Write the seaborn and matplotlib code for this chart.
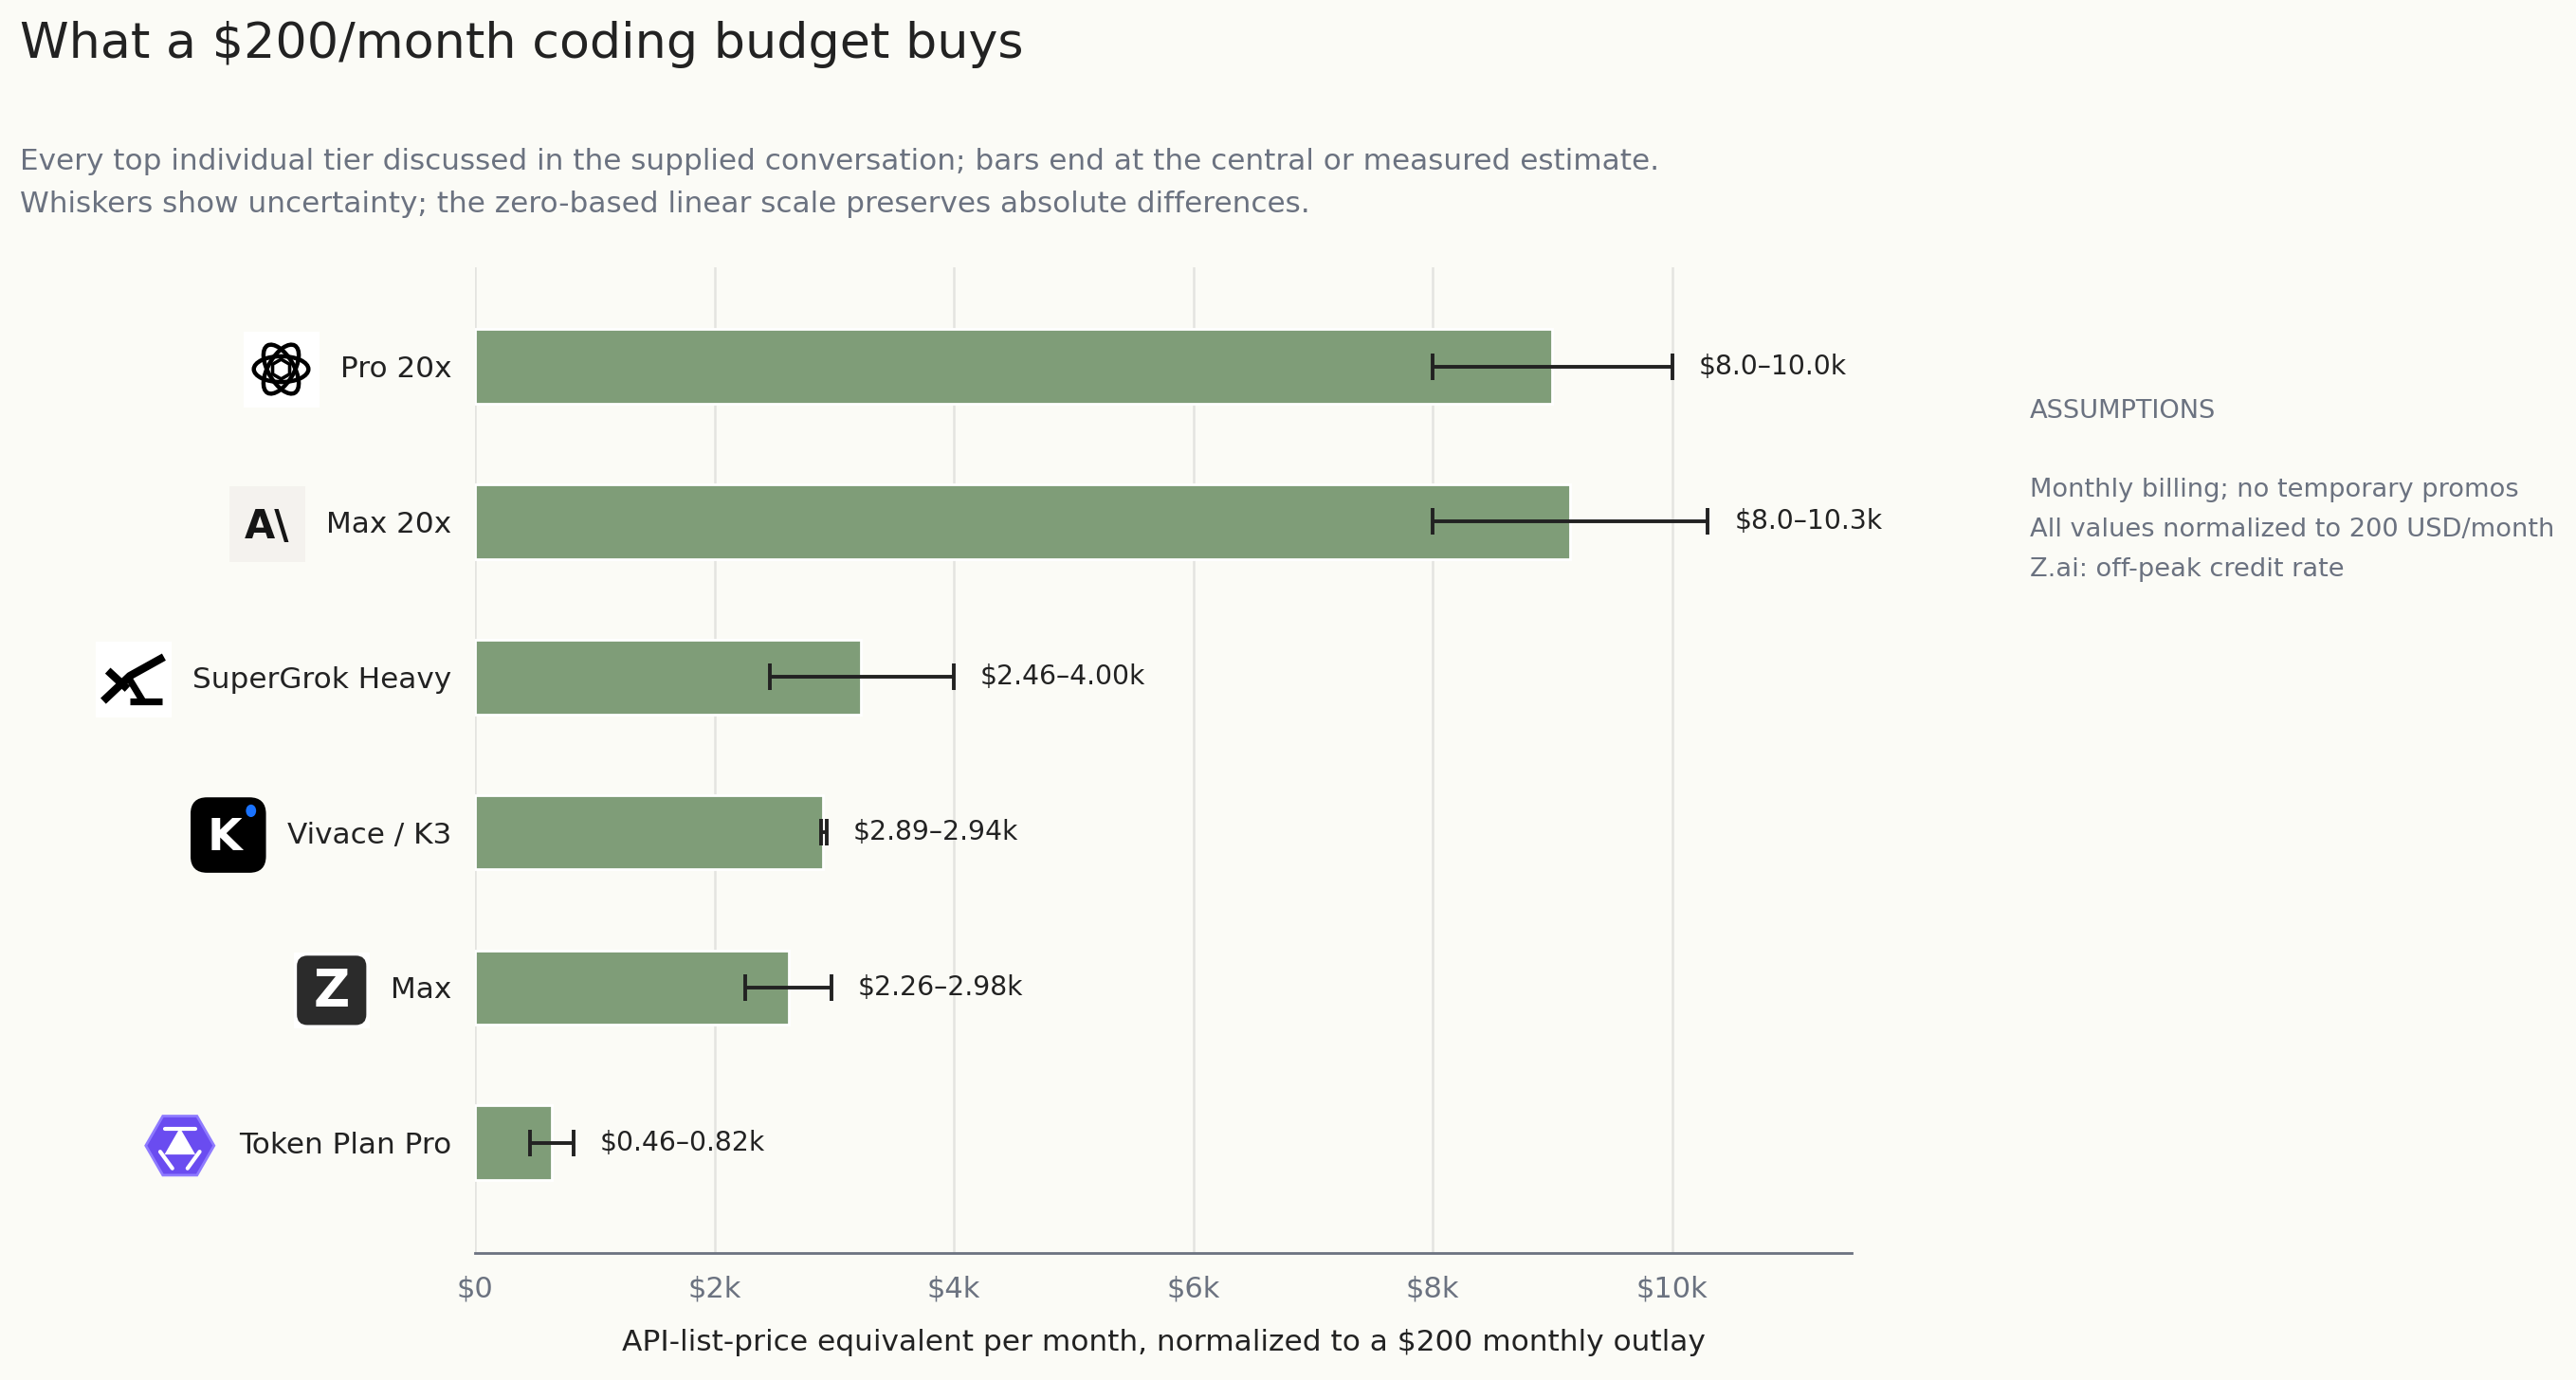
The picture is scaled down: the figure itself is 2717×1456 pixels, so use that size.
import matplotlib
matplotlib.use("Agg")
import matplotlib.pyplot as plt
import matplotlib.patches as mpatches
import seaborn as sns
import numpy as np
import pandas as pd

# data (values in $k per month)
plans = ["Pro 20x", "Max 20x", "SuperGrok Heavy", "Vivace / K3", "Max", "Token Plan Pro"]
central = [9.00, 9.15, 3.22, 2.91, 2.62, 0.64]
low = [8.0, 8.0, 2.46, 2.89, 2.26, 0.46]
high = [10.0, 10.3, 4.00, 2.94, 2.98, 0.82]
range_labels = ["$8.0\u201310.0k", "$8.0\u201310.3k", "$2.46\u20134.00k",
                "$2.89\u20132.94k", "$2.26\u20132.98k", "$0.46\u20130.82k"]
logos = ["openai", "anthropic", "xai", "kimi", "zai", "qwen"]
xticks = [0, 2, 4, 6, 8, 10]
xtick_labels = ["$0", "$2k", "$4k", "$6k", "$8k", "$10k"]
assumptions = ["Monthly billing; no temporary promos",
               "All values normalized to 200 USD/month",
               "Z.ai: off-peak credit rate"]

BG = "#fbfbf6"
BAR = "#7f9d78"
GREY = "#6b7280"
DARK = "#222222"

df = pd.DataFrame({"plan": plans, "central": central, "low": low, "high": high})

sns.set_style("white")
plt.rcParams["font.family"] = ["DejaVu Sans"]

fig = plt.figure(figsize=(13.585, 7.28), dpi=200, facecolor=BG)
ax = fig.add_axes([0.1844, 0.092, 0.5344, 0.714])
ax.set_facecolor(BG)

sns.barplot(data=df, x="central", y="plan", orient="h", color=BAR,
            width=0.48, saturation=1, ax=ax, zorder=2)

ypos = np.arange(len(plans))
xerr = [df["central"] - df["low"], df["high"] - df["central"]]
ax.errorbar(df["central"], ypos, xerr=xerr, fmt="none", ecolor=DARK,
            elinewidth=1.4, capsize=5, capthick=1.4, zorder=3)

for y, hi, lab in zip(ypos, high, range_labels):
    ax.annotate(lab, (hi, y), xytext=(10, 0), textcoords="offset points",
                va="center", ha="left", fontsize=10.2, color=DARK)

ax.set_xlim(0, 11.5)
ax.set_ylim(len(plans) - 0.29, -0.635)
ax.set_xticks(xticks)
ax.set_xticklabels(xtick_labels, fontsize=11, color=GREY)
ax.grid(axis="x", color="#e4e4e0", linewidth=0.9, zorder=0)
ax.set_axisbelow(True)
for s in ["top", "right", "left"]:
    ax.spines[s].set_visible(False)
ax.spines["bottom"].set_color(GREY)
ax.spines["bottom"].set_linewidth(1.0)
ax.tick_params(axis="x", length=5, width=1, color=GREY, pad=3.5)
ax.tick_params(axis="y", length=0, pad=9, labelsize=11.2, labelcolor=DARK)
ax.set_ylabel("")
ax.set_xlabel("API-list-price equivalent per month, normalized to a $200 monthly outlay",
              fontsize=11.25, color=DARK, labelpad=10)

fig.text(0.0077, 0.968, "What a $200/month coding budget buys", fontsize=18.8,
         color=DARK, va="center", ha="left")
fig.text(0.0077, 0.883, "Every top individual tier discussed in the supplied conversation; "
         "bars end at the central or measured estimate.", fontsize=11.2, color=GREY,
         va="center")
fig.text(0.0077, 0.852, "Whiskers show uncertainty; the zero-based linear scale preserves "
         "absolute differences.", fontsize=11.2, color=GREY, va="center")

fig.text(0.788, 0.702, "ASSUMPTIONS", fontsize=9.8, color=GREY, va="center")
for i, line in enumerate(assumptions):
    fig.text(0.788, 0.645 - i * 0.029, line, fontsize=9.8, color=GREY, va="center")


def draw_logo(lax, kind):
    lax.set_xlim(0, 1)
    lax.set_ylim(0, 1)
    lax.set_aspect("equal")
    lax.axis("off")
    if kind == "openai":
        lax.add_patch(mpatches.Rectangle((0, 0), 1, 1, color="white"))
        for a in range(0, 180, 60):
            lax.add_patch(mpatches.Ellipse((0.5, 0.5), 0.72, 0.34, angle=a,
                                           fill=False, ec="black", lw=1.6))
        lax.add_patch(mpatches.RegularPolygon((0.5, 0.5), 6, radius=0.13,
                                              fill=False, ec="black", lw=1.3))
    elif kind == "anthropic":
        lax.add_patch(mpatches.Rectangle((0, 0), 1, 1, color="#f4f2ee"))
        lax.text(0.5, 0.47, "A\\", ha="center", va="center", fontsize=15,
                 fontweight="bold", color="#151515", family="DejaVu Sans Condensed")
    elif kind == "xai":
        lax.add_patch(mpatches.Rectangle((0, 0), 1, 1, color="white"))
        lax.plot([0.1, 0.45, 0.9], [0.22, 0.55, 0.8], color="black", lw=3.0,
                 solid_capstyle="butt")
        lax.plot([0.16, 0.42], [0.62, 0.38], color="black", lw=3.0,
                 solid_capstyle="butt")
        lax.plot([0.45, 0.62], [0.5, 0.22], color="black", lw=2.6,
                 solid_capstyle="butt")
        lax.plot([0.45, 0.88], [0.22, 0.22], color="black", lw=2.6,
                 solid_capstyle="butt")
    elif kind == "kimi":
        lax.add_patch(mpatches.FancyBboxPatch((0.02, 0.02), 0.96, 0.96,
                                              boxstyle="round,pad=0,rounding_size=0.2",
                                              color="black"))
        lax.text(0.45, 0.46, "K", ha="center", va="center", fontsize=17,
                 color="white", fontweight="bold")
        lax.add_patch(mpatches.Ellipse((0.8, 0.82), 0.1, 0.13, color="#1a73ff"))
    elif kind == "zai":
        lax.add_patch(mpatches.Rectangle((0, 0), 1, 1, color="white"))
        lax.add_patch(mpatches.FancyBboxPatch((0.06, 0.06), 0.88, 0.88,
                                              boxstyle="round,pad=0,rounding_size=0.12",
                                              color="#2b2b2b"))
        lax.text(0.5, 0.48, "Z", ha="center", va="center", fontsize=19,
                 color="white", fontweight="bold")
    elif kind == "qwen":
        lax.add_patch(mpatches.RegularPolygon((0.5, 0.5), 6, radius=0.45,
                                              orientation=np.pi / 6, fc="#6a4cf0",
                                              ec="#8f7bff", lw=1.0))
        lax.add_patch(mpatches.RegularPolygon((0.5, 0.5), 3, radius=0.2,
                                              fc="white", ec="white"))
        lax.plot([0.3, 0.7], [0.72, 0.72], color="white", lw=1.5)
        lax.plot([0.24, 0.4], [0.42, 0.2], color="white", lw=1.5)
        lax.plot([0.76, 0.6], [0.42, 0.2], color="white", lw=1.5)


fig.canvas.draw()
renderer = fig.canvas.get_renderer()
W, H = fig.bbox.width, fig.bbox.height
size = 80
for lab, kind in zip(ax.get_yticklabels(), logos):
    bb = lab.get_window_extent(renderer)
    cx = bb.x0 - 22 - size / 2
    cy = (bb.y0 + bb.y1) / 2
    lax = fig.add_axes([(cx - size / 2) / W, (cy - size / 2) / H, size / W, size / H])
    draw_logo(lax, kind)

fig.savefig("out.png", dpi=200, facecolor=BG)
